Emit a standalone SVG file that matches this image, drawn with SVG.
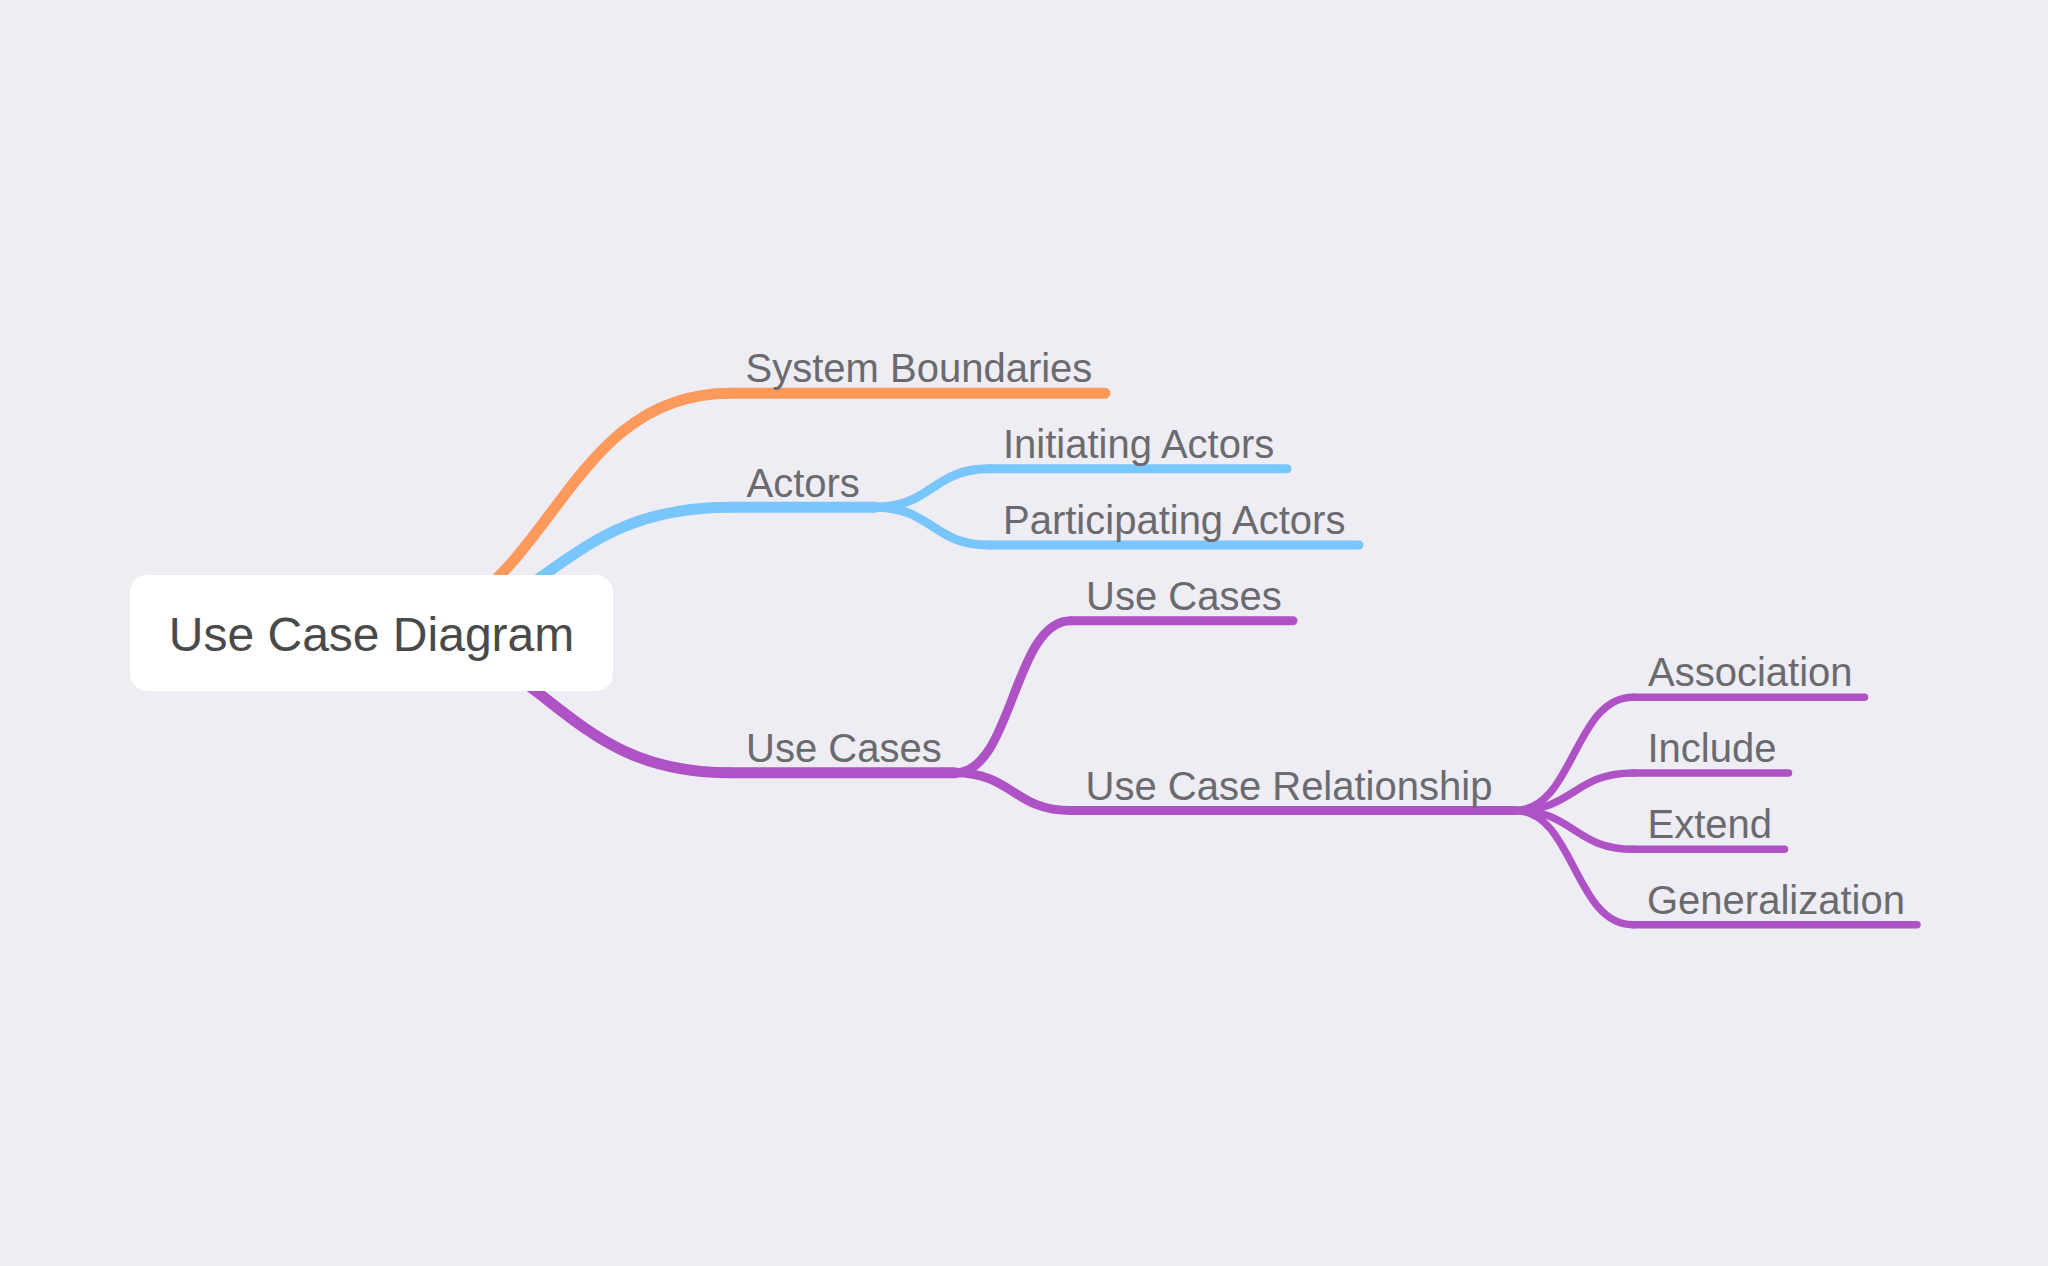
<svg xmlns="http://www.w3.org/2000/svg" width="2048" height="1266" viewBox="0 0 2048 1266">
  <style>
    .edge { fill: none; stroke-linecap: round; }
    .uline { fill: none; stroke-linecap: round; }
    .d0 { stroke-width: 11; }
    .d1 { stroke-width: 9; }
    .d2 { stroke-width: 7.5; }
    .orange { stroke: #fe995c; }
    .blue { stroke: #79c6fc; }
    .purple { stroke: #ae52c6; }
    .label { font-family: "Liberation Sans", Arial, Helvetica, sans-serif; font-size: 40px; fill: #6a6a6f; }
    .root-text { font-family: "Liberation Sans", Arial, Helvetica, sans-serif; font-size: 48px; fill: #4a4a4a; }
  </style>
  <rect x="0" y="0" width="2048" height="1266" fill="#eeedf3"/>

  <g id="connectors">
    <path class="edge d0 orange" d="M371.5,632.7 C551,632.7 551,393.2 730,393.2"/>
    <path class="edge d0 blue" d="M371.5,632.7 C551,632.7 551,507.2 730,507.2"/>
    <path class="edge d0 purple" d="M371.5,632.7 C551,632.7 551,772.8 730,772.8"/>
    <path class="edge d1 blue" d="M875,507.2 C932,507.2 932,468.8 989,468.8"/>
    <path class="edge d1 blue" d="M875,507.2 C932,507.2 932,545 989,545"/>
    <path class="edge d1 purple" d="M955,772.8 C1013,772.8 1013,620.7 1071,620.7"/>
    <path class="edge d1 purple" d="M955,772.8 C1013,772.8 1013,810.5 1071,810.5"/>
    <path class="edge d2 purple" d="M1515,810.5 C1574,810.5 1574,697.2 1633,697.2"/>
    <path class="edge d2 purple" d="M1515,810.5 C1574,810.5 1574,773 1633,773"/>
    <path class="edge d2 purple" d="M1515,810.5 C1574,810.5 1574,849.2 1633,849.2"/>
    <path class="edge d2 purple" d="M1515,810.5 C1574,810.5 1574,924.7 1633,924.7"/>
  </g>

  <g id="node-root">
    <rect x="130" y="575" width="483" height="116" rx="17" ry="17" fill="#ffffff"/>
    <text class="root-text" x="371.5" y="651" text-anchor="middle">Use Case Diagram</text>
  </g>

  <g id="node-system-boundaries">
    <line class="uline d0 orange" x1="730" y1="393.2" x2="1105" y2="393.2"/>
    <text class="label" x="745.5" y="382">System Boundaries</text>
  </g>

  <g id="node-actors">
    <line class="uline d0 blue" x1="730" y1="507.2" x2="875" y2="507.2"/>
    <text class="label" x="746.5" y="496.5">Actors</text>
  </g>

  <g id="node-initiating-actors">
    <line class="uline d1 blue" x1="989" y1="468.8" x2="1287" y2="468.8"/>
    <text class="label" x="1003" y="458">Initiating Actors</text>
  </g>

  <g id="node-participating-actors">
    <line class="uline d1 blue" x1="989" y1="545" x2="1359" y2="545"/>
    <text class="label" x="1003" y="533.5">Participating Actors</text>
  </g>

  <g id="node-use-cases">
    <line class="uline d0 purple" x1="730" y1="772.8" x2="955" y2="772.8"/>
    <text class="label" x="746" y="762">Use Cases</text>
  </g>

  <g id="node-use-cases-sub">
    <line class="uline d1 purple" x1="1071" y1="620.7" x2="1293" y2="620.7"/>
    <text class="label" x="1086" y="609.5">Use Cases</text>
  </g>

  <g id="node-use-case-relationship">
    <line class="uline d1 purple" x1="1071" y1="810.5" x2="1515" y2="810.5"/>
    <text class="label" x="1085.5" y="799.5">Use Case Relationship</text>
  </g>

  <g id="node-association">
    <line class="uline d2 purple" x1="1633" y1="697.2" x2="1864.5" y2="697.2"/>
    <text class="label" x="1648" y="686">Association</text>
  </g>

  <g id="node-include">
    <line class="uline d2 purple" x1="1633" y1="773" x2="1788.5" y2="773"/>
    <text class="label" x="1647.5" y="762">Include</text>
  </g>

  <g id="node-extend">
    <line class="uline d2 purple" x1="1633" y1="849.2" x2="1784.5" y2="849.2"/>
    <text class="label" x="1647.5" y="838">Extend</text>
  </g>

  <g id="node-generalization">
    <line class="uline d2 purple" x1="1633" y1="924.7" x2="1917" y2="924.7"/>
    <text class="label" x="1647" y="914">Generalization</text>
  </g>
</svg>
